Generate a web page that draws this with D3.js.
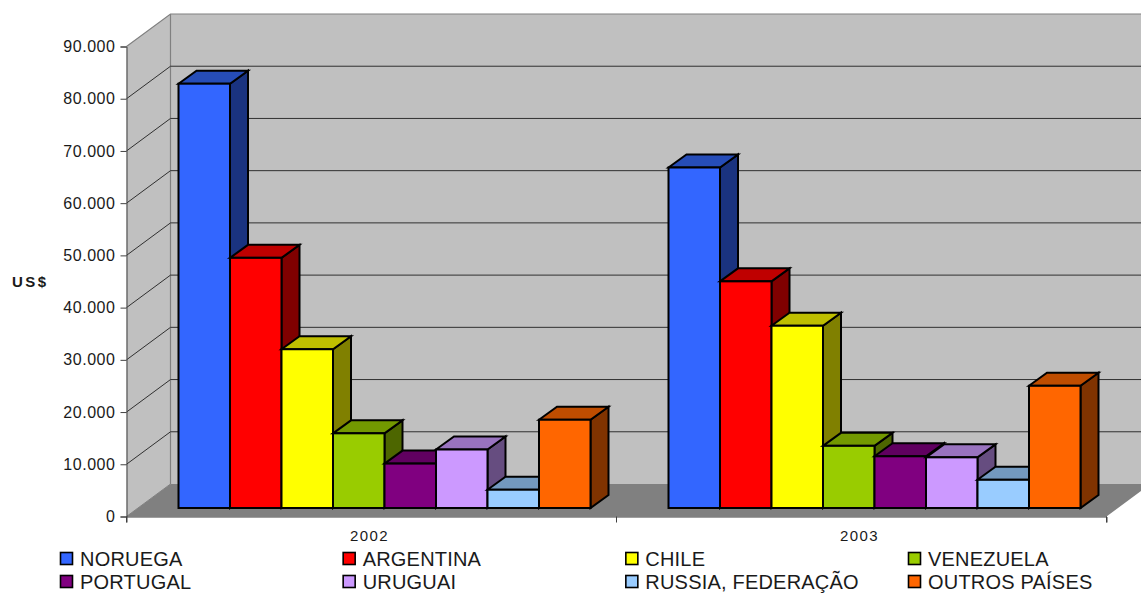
<!DOCTYPE html>
<html><head><meta charset="utf-8">
<script src="https://d3js.org/d3.v7.min.js"></script>
<style>
html,body{margin:0;padding:0;background:#fff;overflow:hidden}
svg{display:block}
text{font-family:"Liberation Sans",Arial,sans-serif;fill:#1a1a1a}
</style></head><body>
<svg id="c" width="1141" height="593"></svg>
<script>
const categories = ["2002","2003"];
const seriesNames = ["NORUEGA","ARGENTINA","CHILE","VENEZUELA","PORTUGAL","URUGUAI","RUSSIA, FEDERAÇÃO","OUTROS PAÍSES"];
const values2002 = [81250,47900,30400,14300,8500,11200,3500,16900];
const values2003 = [65200,43400,34900,11900,9900,9700,5400,23400];
const frontColors = ["#3366ff","#ff0000","#ffff00","#99cc00","#800080","#cc99ff","#99ccff","#ff6600"];
const topColors   = ["#264db8","#bf0000","#bfbf00","#739900","#600060","#9973bf","#7399bf","#bf4d00"];
const sideColors  = ["#1a3380","#800000","#808000","#4d6600","#400040","#664d80","#4d6680","#803300"];
const yTicks = [0,10000,20000,30000,40000,50000,60000,70000,80000,90000];

const svg = d3.select("#c");
const L=126.5,R=1106.5,T=46.5,B=516.5,DX=44,DY=-32.5;
const y = d3.scaleLinear().domain([0,90000]).range([B,T]);
const x0 = d3.scaleBand().domain(categories).range([L,R]);
const x1 = d3.scaleBand().domain(seriesNames).range([52,464]);
const fmt = d3.formatLocale({decimal:",",thousands:".",grouping:[3],currency:["",""]}).format(",d");
const poly = p => p.map(a=>a.join(",")).join(" ");

// walls and floor
svg.append("polygon").attr("points",poly([[L,T],[L+DX,T+DY],[L+DX,B+DY],[L,B]])).attr("fill","#c0c0c0");
svg.append("polygon").attr("points",poly([[L+DX,T+DY],[1160,T+DY],[1160,B+DY],[L+DX,B+DY]])).attr("fill","#c0c0c0");
svg.append("polygon").attr("points",poly([[L,B],[L+DX,B+DY],[R+DX,B+DY],[R,B]])).attr("fill","#808080");
svg.append("path").attr("d",`M${L},${T}L${L+DX},${T+DY}H1141M${L+DX},${T+DY}V${B+DY}`).attr("fill","none").attr("stroke","#808080").attr("stroke-width",1.2);
svg.append("path").attr("d",`M${L},${B}L${L+DX},${B+DY}`).attr("fill","none").attr("stroke","#808080");

// gridlines
yTicks.filter(v=>v>0&&v<90000).forEach(v=>{
  svg.append("path").attr("d",`M${L},${y(v)}L${L+DX},${y(v)+DY}H1141`).attr("fill","none").attr("stroke","#303030").attr("stroke-width",1);
});

// axes
const gy = svg.append("g").attr("transform",`translate(${L},0)`)
  .call(d3.axisLeft(y).tickValues(yTicks).tickFormat(fmt).tickSize(6).tickPadding(5));
gy.selectAll("text").style("font-size","16px").style("letter-spacing","0.55px");
const gx = svg.append("g").attr("transform",`translate(0,${B})`)
  .call(d3.axisBottom(x0).tickSize(6).tickSizeOuter(6).tickFormat(()=>""));
gy.selectAll("path,line").attr("stroke","#404040");
gx.selectAll("path,line").attr("stroke","#404040");
gx.selectAll(".tick").remove();
gx.selectAll(null).data([L,L+490,R]).enter().append("line").attr("x1",d=>d).attr("x2",d=>d).attr("y1",0).attr("y2",6).attr("stroke","#404040");

categories.forEach(c=>{
  svg.append("text").attr("x",x0(c)+x0.bandwidth()/2-2).attr("y",541).attr("text-anchor","middle")
    .style("font-size","15px").style("letter-spacing","1.4px").text(c);
});
svg.append("text").attr("x",12).attr("y",287).style("font-size","15px").style("font-weight","bold").style("letter-spacing","2.4px").text("US$");

// bars
const BD=18,BH=-13,BY=-8.5;
const rows=[values2002,values2003];
categories.forEach((c,ci)=>{
  seriesNames.forEach((s,i)=>{
    const xa=x0(c)+x1(s), xb=xa+x1.bandwidth();
    const yb=y(0)+BY, yt=y(rows[ci][i])+BY;
    const g=svg.append("g").attr("stroke","#000").attr("stroke-width",2).attr("stroke-linejoin","miter");
    g.append("polygon").attr("points",poly([[xb,yt],[xb+BD,yt+BH],[xb+BD,yb+BH],[xb,yb]])).attr("fill",sideColors[i]);
    g.append("polygon").attr("points",poly([[xa,yt],[xa+BD,yt+BH],[xb+BD,yt+BH],[xb,yt]])).attr("fill",topColors[i]);
    g.append("rect").attr("x",xa).attr("y",yt).attr("width",xb-xa).attr("height",yb-yt).attr("fill",frontColors[i]);
  });
});

// legend
const legX=d3.scalePoint().domain([0,1,2,3]).range([60,908]);
seriesNames.forEach((s,i)=>{
  const cx=legX(i%4), cy=i<4?558.5:581.5;
  svg.append("rect").attr("x",cx+.5).attr("y",cy-6).attr("width",12).attr("height",12).attr("fill",frontColors[i]).attr("stroke","#000").attr("stroke-width",1.6);
  svg.append("text").attr("x",cx+20).attr("y",cy+7).style("font-size","20px").style("letter-spacing","0.2px").text(s);
});
</script>
</body></html>
